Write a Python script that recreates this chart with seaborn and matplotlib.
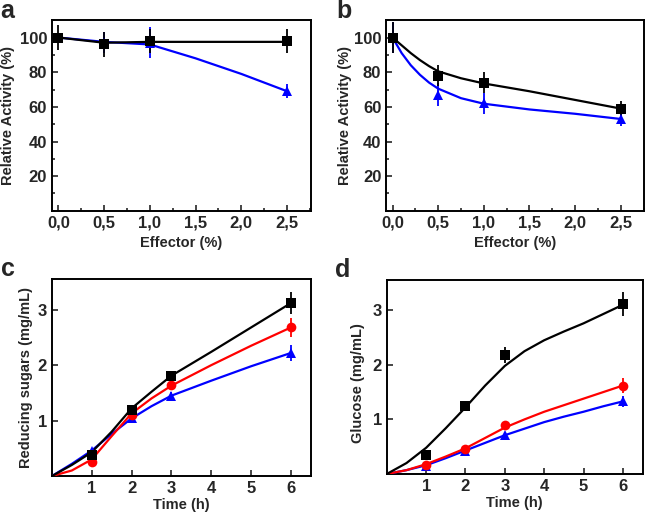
import numpy as np
import pandas as pd
import matplotlib
matplotlib.use("Agg")
import matplotlib.pyplot as plt
import seaborn as sns
from matplotlib.ticker import MultipleLocator, FuncFormatter

sns.set_style("ticks")
plt.rcParams["font.family"] = ["Liberation Sans", "DejaVu Sans"]
plt.rcParams["font.weight"] = "bold"

## Data ##

# panel a
eff = [0.0, 0.5, 1.0, 2.5]
a_black = [100, 96, 98, 98]
a_black_err = [7, 7, 7, 7]
a_blue = [100, 97, 97, 69]
a_blue_err = [1, 6, 9, 4]
a_fit_x = [0.0, 0.5, 1.0, 1.5, 2.0, 2.5]
a_fit_black = [100, 97, 97.5, 97.5, 97.5, 97.5]
a_fit_blue = [100, 97.5, 96, 88, 79, 69]

# panel b
b_black = [100, 78, 74, 59]
b_black_err = [9, 6, 6, 4.5]
b_blue = [100, 67, 62, 53]
b_blue_err = [9, 6.5, 6, 4]
b_fit_x = [0.0, 0.1, 0.2, 0.3, 0.4, 0.5, 0.75, 1.0, 1.5, 2.0, 2.5]
b_fit_black = [100, 95.5, 91, 87, 83.5, 80.5, 76.5, 73.5, 69, 64, 59]
b_fit_blue = [100, 91, 84, 78.5, 74, 70.5, 65, 61.8, 58.5, 56, 53]

# panels c and d
hours = [1, 2, 3, 6]
c_black = [0.38, 1.2, 1.8, 3.12]
c_black_err = [0.03, 0.05, 0.1, 0.2]
c_red = [0.25, 1.1, 1.65, 2.68]
c_red_err = [0.05, 0.05, 0.1, 0.17]
c_blue = [0.45, 1.05, 1.45, 2.22]
c_blue_err = [0.05, 0.05, 0.07, 0.15]
c_fit_x = [0, 0.5, 1, 1.5, 2, 2.5, 3, 4, 5, 6]
c_fit_black = [0.0, 0.2, 0.43, 0.8, 1.22, 1.52, 1.81, 2.24, 2.68, 3.12]
c_fit_red = [0.0, 0.1, 0.3, 0.72, 1.13, 1.4, 1.63, 2.0, 2.35, 2.68]
c_fit_blue = [0.0, 0.22, 0.46, 0.76, 1.04, 1.26, 1.45, 1.72, 1.98, 2.22]

d_black = [0.35, 1.25, 2.18, 3.12]
d_black_err = [0.03, 0.07, 0.15, 0.22]
d_red = [0.17, 0.45, 0.9, 1.62]
d_red_err = [0.03, 0.03, 0.05, 0.13]
d_blue = [0.15, 0.43, 0.72, 1.33]
d_blue_err = [0.03, 0.03, 0.04, 0.1]
d_fit_x = [0, 0.5, 1, 1.5, 2, 2.5, 3, 3.5, 4, 4.5, 5, 5.5, 6]
d_fit_black = [0.0, 0.2, 0.48, 0.84, 1.22, 1.62, 1.98, 2.25, 2.45, 2.61, 2.76, 2.93, 3.1]
d_fit_red = [0.0, 0.07, 0.18, 0.32, 0.47, 0.66, 0.85, 1.0, 1.14, 1.26, 1.38, 1.5, 1.62]
d_fit_blue = [0.0, 0.07, 0.16, 0.29, 0.43, 0.57, 0.71, 0.83, 0.95, 1.05, 1.14, 1.24, 1.33]

BLACK = "#000000"
BLUE = "#0000ff"
RED = "#ff0000"

W, H = 649, 518
fig = plt.figure(figsize=(W / 100, H / 100), dpi=100)
ax_a = fig.add_axes([0.080, 0.593, 0.399, 0.368])
ax_b = fig.add_axes([0.595, 0.593, 0.398, 0.368])
ax_c = fig.add_axes([0.080, 0.081, 0.399, 0.380])
ax_d = fig.add_axes([0.596, 0.085, 0.394, 0.374])


def draw_series(ax, fx, fy, x, y, err, color, marker):
    sns.lineplot(x=fx, y=fy, ax=ax, color=color, lw=1.6, zorder=3)
    ax.errorbar(x, y, yerr=err, fmt=marker, color=color, ms=7, mew=0,
                ecolor=color, elinewidth=1.3, capsize=2.5, capthick=1.3,
                zorder=4, clip_on=True)


def style_axes(ax):
    for s in ax.spines.values():
        s.set_linewidth(1.4)
        s.set_color("black")
    ax.tick_params(which="both", direction="in", width=1.2, labelsize=12)
    ax.tick_params(which="major", length=4)
    ax.tick_params(which="minor", length=2.5)
    for lab in ax.get_xticklabels() + ax.get_yticklabels():
        lab.set_fontweight("bold")


comma = FuncFormatter(lambda v, p: ("%.1f" % v).replace(".", ","))

# panel a
draw_series(ax_a, a_fit_x, a_fit_blue, eff, a_blue, a_blue_err, BLUE, "^")
draw_series(ax_a, a_fit_x, a_fit_black, eff, a_black, a_black_err, BLACK, "s")
# panel b
draw_series(ax_b, b_fit_x, b_fit_blue, eff, b_blue, b_blue_err, BLUE, "^")
draw_series(ax_b, b_fit_x, b_fit_black, eff, b_black, b_black_err, BLACK, "s")

for ax in (ax_a, ax_b):
    ax.set_xlim(-0.07, 2.76)
    ax.set_ylim(0, 110)
    ax.xaxis.set_major_locator(MultipleLocator(0.5))
    ax.xaxis.set_minor_locator(MultipleLocator(0.25))
    ax.xaxis.set_major_formatter(comma)
    ax.set_yticks([20, 40, 60, 80, 100])
    ax.yaxis.set_minor_locator(MultipleLocator(10))
    ax.set_xlabel("Effector (%)", fontsize=10.5, fontweight="bold")
    ax.set_ylabel("Relative Activity (%)", fontsize=10.5, fontweight="bold")
    ax.xaxis.set_label_coords(0.5, -0.13)
    style_axes(ax)
ax_a.yaxis.set_label_coords(-0.143, 0.5)
ax_b.yaxis.set_label_coords(-0.132, 0.5)

# panel c
draw_series(ax_c, c_fit_x, c_fit_blue, hours, c_blue, c_blue_err, BLUE, "^")
draw_series(ax_c, c_fit_x, c_fit_red, hours, c_red, c_red_err, RED, "o")
draw_series(ax_c, c_fit_x, c_fit_black, hours, c_black, c_black_err, BLACK, "s")
# panel d
draw_series(ax_d, d_fit_x, d_fit_blue, hours, d_blue, d_blue_err, BLUE, "^")
draw_series(ax_d, d_fit_x, d_fit_red, hours, d_red, d_red_err, RED, "o")
draw_series(ax_d, d_fit_x, d_fit_black, hours, d_black, d_black_err, BLACK, "s")

for ax, lab in ((ax_c, "Reducing sugars (mg/mL)"), (ax_d, "Glucose (mg/mL)")):
    ax.set_xlim(0, 6.5)
    ax.set_ylim(0, 3.55)
    ax.set_xticks([1, 2, 3, 4, 5, 6])
    ax.set_yticks([1, 2, 3])
    ax.set_xlabel("Time (h)", fontsize=10.5, fontweight="bold")
    ax.set_ylabel(lab, fontsize=10.5, fontweight="bold")
    style_axes(ax)
ax_c.xaxis.set_label_coords(0.5, -0.11)
ax_d.xaxis.set_label_coords(0.5, -0.115)
ax_c.yaxis.set_label_coords(-0.073, 0.5)
ax_d.yaxis.set_label_coords(-0.086, 0.47)

# panel letters, placed by pixel (left, baseline)
for letter, px, py in (("a", 0, 18), ("b", 336, 18), ("c", 1, 276), ("d", 335, 277)):
    fig.text(px / W, 1 - py / H, letter, fontsize=18, fontweight="bold",
             va="baseline", ha="left")

fig.savefig("out.png", dpi=100)
